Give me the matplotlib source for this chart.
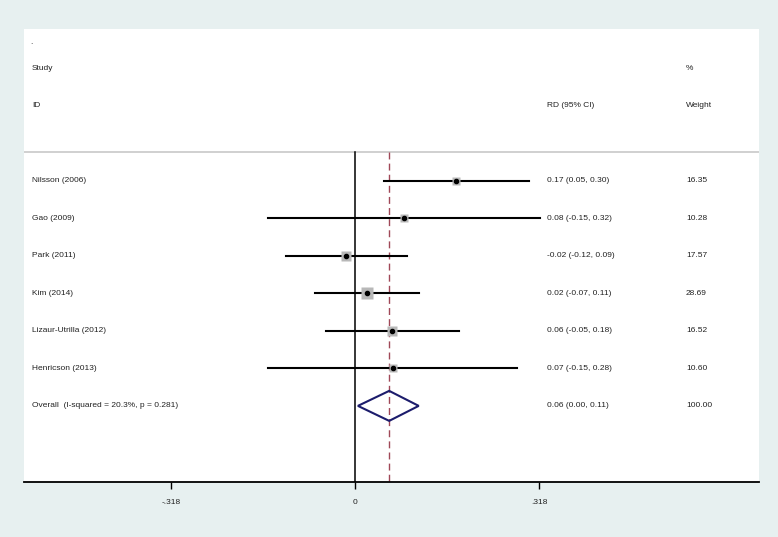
import matplotlib
matplotlib.use("Agg")
import matplotlib.pyplot as plt
import matplotlib.transforms as mtransforms
import numpy as np

studies = ["Nilsson (2006)", "Gao (2009)", "Park (2011)", "Kim (2014)",
           "Lizaur-Utrilla (2012)", "Henricson (2013)"]
rd = [0.174, 0.085, -0.016, 0.021, 0.064, 0.066]
lo = [0.05, -0.15, -0.12, -0.07, -0.05, -0.15]
hi = [0.30, 0.32, 0.09, 0.11, 0.18, 0.28]
ci_text = ["0.17 (0.05, 0.30)", "0.08 (-0.15, 0.32)", "-0.02 (-0.12, 0.09)",
           "0.02 (-0.07, 0.11)", "0.06 (-0.05, 0.18)", "0.07 (-0.15, 0.28)"]
weights = [16.35, 10.28, 17.57, 28.69, 16.52, 10.60]
weight_text = ["16.35", "10.28", "17.57", "28.69", "16.52", "10.60"]
overall_label = "Overall  (I-squared = 20.3%, p = 0.281)"
overall_est, overall_lo, overall_hi = 0.059, 0.005, 0.11
overall_ci_text = "0.06 (0.00, 0.11)"
overall_weight_text = "100.00"
xticks = [-0.318, 0, 0.318]
xtick_labels = ["-.318", "0", ".318"]

W, H = 778, 537
fig = plt.figure(figsize=(W / 100, H / 100), dpi=100)
fig.patch.set_facecolor("#e7f0f0")
plt.rcParams['font.family'] = ['Liberation Sans', 'DejaVu Sans']

left, right, top, bottom = 24, 759, 29, 482
ax = fig.add_axes([left / W, 1 - bottom / H, (right - left) / W, (bottom - top) / H])
ax.set_facecolor("white")
ax.set_xlim(-0.572, 0.698)
ax.set_ylim(8.03, -4.05)

for s in ["top", "right", "left"]:
    ax.spines[s].set_visible(False)
ax.spines["bottom"].set_linewidth(1.3)
ax.set_yticks([])
ax.set_xticks(xticks)
ax.set_xticklabels(xtick_labels, fontsize=6, color="#222222")
ax.tick_params(axis="x", direction="out", length=5, width=1, pad=7)

fs = 6
tc = "#222222"
tr = mtransforms.blended_transform_factory(ax.transAxes, ax.transData)
sep_y = -0.77

# separator line
ax.plot([0, 1], [sep_y, sep_y], transform=tr, color="#c8c8c8", lw=1.2, zorder=1)

# vertical lines
ax.plot([0, 0], [sep_y, 8.03], color="black", lw=1.1, zorder=2)
ax.plot([overall_est, overall_est], [sep_y, 8.03], color="#a04858", lw=1.0,
        ls=(0, (5, 3)), zorder=2)

# headers
ax.text(0.008, -3.68, ".", transform=tr, fontsize=fs, va="center", color=tc)
ax.text(0.011, -3.0, "Study", transform=tr, fontsize=fs, va="center", color=tc)
ax.text(0.011, -2.0, "ID", transform=tr, fontsize=fs, va="center", color=tc)
ax.text(0.7116, -2.0, "RD (95% CI)", transform=tr, fontsize=fs, va="center", color=tc)
ax.text(0.9007, -3.0, "%", transform=tr, fontsize=fs, va="center", color=tc)
ax.text(0.9007, -2.0, "Weight", transform=tr, fontsize=fs, va="center", color=tc)

rows = np.arange(len(studies))
for i, y in enumerate(rows):
    ax.plot([lo[i], hi[i]], [y, y], color="black", lw=1.5, zorder=3)
    ax.plot(rd[i], y, marker="s", markersize=1.6 * np.sqrt(weights[i]),
            color="#b8b8b8", mec="none", zorder=4)
    ax.plot(rd[i], y, marker="o", markersize=3.0, color="black", zorder=5)
    ax.text(0.011, y, studies[i], transform=tr, fontsize=fs, va="center", color=tc)
    ax.text(0.7116, y, ci_text[i], transform=tr, fontsize=fs, va="center", color=tc)
    ax.text(0.9007, y, weight_text[i], transform=tr, fontsize=fs, va="center", color=tc)

oy = len(studies)
dh = 0.4
ax.fill([overall_lo, overall_est, overall_hi, overall_est, overall_lo],
        [oy, oy - dh, oy, oy + dh, oy], facecolor="none",
        edgecolor="#1c1c6c", lw=1.5, zorder=4)
ax.text(0.011, oy, overall_label, transform=tr, fontsize=fs, va="center", color=tc)
ax.text(0.7116, oy, overall_ci_text, transform=tr, fontsize=fs, va="center", color=tc)
ax.text(0.9007, oy, overall_weight_text, transform=tr, fontsize=fs, va="center", color=tc)

fig.savefig("out.png", dpi=100, facecolor=fig.get_facecolor())
